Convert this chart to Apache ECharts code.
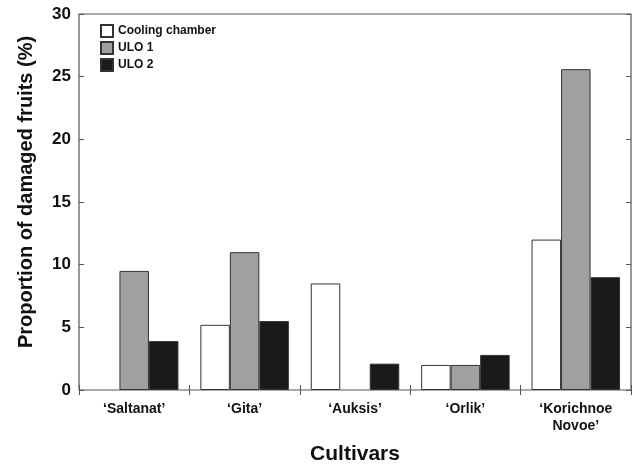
<!DOCTYPE html>
<html>
<head>
<meta charset="utf-8">
<script src="https://cdn.jsdelivr.net/npm/echarts@6/dist/echarts.min.js"></script>
<style>
  html, body { margin: 0; padding: 0; background: #fff; }
  #chart { width: 633px; height: 464px; }
</style>
</head>
<body>
<div id="chart"></div>
<script>
// Cultivars on the x axis and the damaged-fruit share per storage regime
const cultivars = ['\u2018Saltanat\u2019', '\u2018Gita\u2019', '\u2018Auksis\u2019', '\u2018Orlik\u2019', '\u2018Korichnoe\nNovoe\u2019'];
const coolingChamber = [0, 5.2, 8.5, 2.0, 12.0];
const ulo1 = [9.5, 11.0, 0, 2.0, 25.6];
const ulo2 = [3.9, 5.5, 2.1, 2.8, 9.0];
const yTicks = [0, 5, 10, 15, 20, 25, 30];

const font = '"Liberation Sans", Arial, Helvetica, sans-serif';
const frameColor = '#555';

const chart = echarts.init(document.getElementById('chart'), null, { renderer: 'canvas' });

function barSeries(name, data, color) {
  return {
    name: name,
    type: 'bar',
    // a zero share draws no bar at all, not even an outline
    data: data.map(v => (v === 0 ? null : v)),
    barWidth: 29.5,
    barGap: '0%',
    itemStyle: { color: color, borderColor: '#333', borderWidth: 1 },
    emphasis: { disabled: true }
  };
}

chart.setOption({
  animation: false,
  textStyle: { fontFamily: font },
  grid: {
    left: 79, right: 2, top: 14, bottom: 74,
    outerBoundsMode: 'none',
    containLabel: false,
    show: true, borderColor: frameColor, borderWidth: 1.2, backgroundColor: '#fff'
  },
  legend: {
    left: 100, top: 24, orient: 'vertical',
    padding: 0,
    itemWidth: 12, itemHeight: 12, itemGap: 3,
    icon: 'rect',
    textStyle: { fontFamily: font, fontWeight: 'bold', fontSize: 12, color: '#111' },
    data: ['Cooling chamber', 'ULO 1', 'ULO 2']
  },
  xAxis: [{
    type: 'category',
    data: cultivars,
    position: 'bottom',
    axisLine: { show: false },
    axisTick: { show: true, inside: true, length: 5, lineStyle: { color: frameColor } },
    axisLabel: {
      fontFamily: font, fontWeight: 'bold', fontSize: 14, color: '#111',
      margin: 11, lineHeight: 17, interval: 0
    },
    name: 'Cultivars',
    nameLocation: 'middle',
    nameGap: 54,
    nameTextStyle: { fontFamily: font, fontWeight: 'bold', fontSize: 21, color: '#111' }
  }, {
    type: 'category',
    data: cultivars,
    position: 'top',
    axisLine: { show: false },
    axisTick: { show: true, inside: true, length: 5, lineStyle: { color: frameColor } },
    axisLabel: { show: false }
  }],
  yAxis: [{
    type: 'value',
    min: yTicks[0], max: yTicks[yTicks.length - 1], interval: 5,
    position: 'left',
    axisLine: { show: false },
    splitLine: { show: false },
    axisTick: { show: true, inside: true, length: 5, lineStyle: { color: frameColor } },
    axisLabel: { fontFamily: font, fontWeight: 'bold', fontSize: 17, color: '#111', margin: 8 },
    name: 'Proportion of damaged fruits (%)',
    nameLocation: 'middle',
    nameGap: 43,
    nameTextStyle: { fontFamily: font, fontWeight: 'bold', fontSize: 20, color: '#111', padding: [0, 0, 0, 20] }
  }, {
    type: 'value',
    min: yTicks[0], max: yTicks[yTicks.length - 1], interval: 5,
    position: 'right',
    axisLine: { show: false },
    splitLine: { show: false },
    axisTick: { show: true, inside: true, length: 5, lineStyle: { color: frameColor } },
    axisLabel: { show: false }
  }],
  series: [
    barSeries('Cooling chamber', coolingChamber, '#ffffff'),
    barSeries('ULO 1', ulo1, '#a0a0a0'),
    barSeries('ULO 2', ulo2, '#1a1a1a')
  ]
});
</script>
</body>
</html>
